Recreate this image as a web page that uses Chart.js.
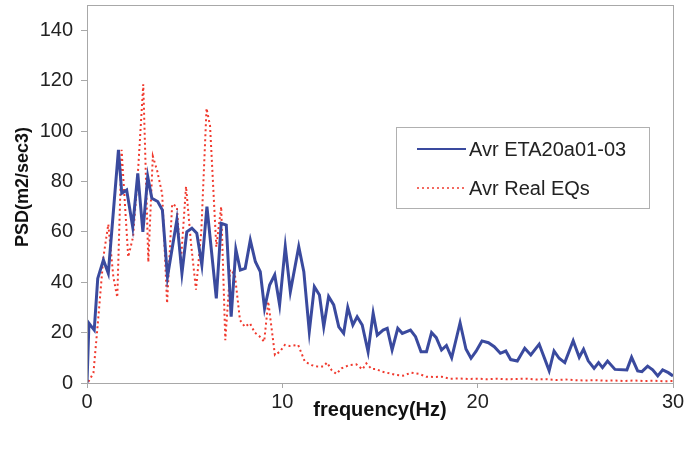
<!DOCTYPE html>
<html><head><meta charset="utf-8">
<script src="https://cdn.jsdelivr.net/npm/chart.js@4/dist/chart.umd.min.js"></script>
<style>html,body{margin:0;padding:0;background:#fff}#wrap{width:685px;height:452px}</style>
</head><body><div id="wrap"><canvas id="c" width="685" height="452"></canvas></div>
<script>
const seriesNames = ['Avr ETA20a01-03', 'Avr Real EQs'];
const xTickValues = [0, 10, 20, 30];
const yTickValues = [0, 20, 40, 60, 80, 100, 120, 140];
const xTitle = 'frequency(Hz)';
const yTitle = 'PSD(m2/sec3)';

const etaFreq = [0,0.1,0.37,0.55,0.84,1.09,1.61,1.78,2.03,2.34,2.6,2.86,3.11,3.32,3.62,3.86,4.12,4.6,4.86,5.11,5.37,5.62,5.88,6.14,6.62,6.87,7.13,7.38,7.62,7.85,8.1,8.36,8.62,8.87,9.09,9.35,9.61,9.86,10.15,10.41,10.84,11.1,11.38,11.64,11.9,12.12,12.37,12.63,12.89,13.14,13.35,13.61,13.83,14.09,14.39,14.65,14.86,15.16,15.37,15.62,15.91,16.14,16.56,16.82,17.1,17.38,17.64,17.88,18.15,18.4,18.67,19.1,19.4,19.66,19.92,20.22,20.55,20.85,21.16,21.44,21.69,22.03,22.41,22.72,23.15,23.66,23.91,24.17,24.46,24.89,25.2,25.42,25.66,25.96,26.19,26.39,26.65,27.03,27.64,27.88,28.19,28.41,28.7,28.96,29.22,29.47,29.76,30];
const etaPSD = [0,23.7,21,41.5,48.8,43.5,92.5,75.3,76.6,62,83.2,60,81.9,73.3,72,68.6,42.2,64.7,43.5,60,61.4,59.4,46.8,70,33.6,63.4,62.7,26.3,53,44.8,45.5,56.7,48.1,44.2,29.6,38.9,42.9,31,54.1,36.2,54.1,44.2,20.4,38.2,34.9,22.3,34.3,31,22.3,19.7,30,23,26.3,23,12.4,27.7,19,21,21.7,13.1,21.7,19.7,21,18.4,12.4,12.4,20,18,13.1,14.9,10,23.9,13.5,9.8,12.6,16.7,16,14.4,11.8,12.7,9.3,8.7,13.8,11.1,15.4,4.9,12.7,9.8,8.1,16.8,10.2,13.4,8.8,5.8,8.1,6.1,8.7,5.4,5.2,10.2,4.8,4.5,6.7,5.2,2.8,5.2,4.1,2.8];

const realFreq = [0.07,0.33,0.58,0.84,1.09,1.35,1.55,1.77,2.11,2.36,2.62,2.88,3.14,3.37,3.6,3.85,4.1,4.36,4.6,4.8,5.07,5.33,5.58,5.85,6.12,6.3,6.62,6.87,7.08,7.33,7.57,7.83,8.08,8.34,8.59,8.85,9.07,9.28,9.62,9.87,10.13,10.38,10.81,11.15,11.49,11.83,12.09,12.29,12.53,12.77,13.03,13.42,13.79,14.1,14.3,14.56,14.78,15.12,15.5,15.8,16.18,16.6,17,17.37,17.8,18.15,18.57,19,19.5,20,20.5,21,21.5,22,22.5,23,23.5,24,24.5,25,25.5,26,26.5,27,27.5,28,28.5,29,29.5,30];
const realPSD = [0.5,4,26,50,63,42,34,92.5,50,58,85,118.5,48,90,84,75,31.6,71,70,47.5,78,55,37,60,109,102,54,70,17,45,43,25,22.3,23.7,20,18.4,16.4,32.3,11.1,12.4,15.1,14.7,15.1,8.5,7.1,6.5,6.5,8.1,5,3.6,5.8,7.1,7.4,5.4,7.8,5.6,5.6,4.5,3.8,3.2,2.9,4.1,3.6,2.5,2.4,2.5,1.7,1.8,1.6,1.7,1.5,1.7,1.5,1.6,1.7,1.4,1.5,1.2,1.4,1.1,1.0,1.1,0.9,1.0,0.8,1.0,0.8,0.9,0.7,0.8];

const FONT = '"Liberation Sans", Arial, sans-serif';
const pts = (xs, ys) => xs.map((x, i) => ({x, y: ys[i]}));

const framePlugin = {
  id: 'frame',
  afterDraw(chart) {
    const {ctx, chartArea: a} = chart;
    ctx.save();
    ctx.strokeStyle = '#a8a8a8';
    ctx.lineWidth = 1;
    ctx.strokeRect(a.left + 0.5, a.top + 0.5, a.right - a.left, a.bottom - a.top);
    // y title
    ctx.save();
    ctx.translate(23, 187);
    ctx.rotate(-Math.PI / 2);
    ctx.fillStyle = '#111';
    ctx.font = 'bold 18px ' + FONT;
    ctx.textAlign = 'center';
    ctx.textBaseline = 'middle';
    ctx.fillText(yTitle, 0, 0);
    ctx.restore();
    // legend
    const bx = 396, by = 127, bw = 253, bh = 81;
    ctx.fillStyle = '#fff';
    ctx.fillRect(bx, by, bw, bh);
    ctx.strokeStyle = '#b0b0b0';
    ctx.strokeRect(bx + 0.5, by + 0.5, bw, bh);
    const ds = chart.data.datasets;
    const rows = [149, 188];
    ds.forEach((d, i) => {
      ctx.beginPath();
      ctx.strokeStyle = d.borderColor;
      ctx.lineWidth = i === 0 ? 2 : 1.5;
      ctx.setLineDash(i === 0 ? [] : [2, 3]);
      ctx.moveTo(417, rows[i]);
      ctx.lineTo(466, rows[i]);
      ctx.stroke();
      ctx.setLineDash([]);
      ctx.fillStyle = '#222';
      ctx.font = '20px ' + FONT;
      ctx.textBaseline = 'middle';
      ctx.textAlign = 'left';
      ctx.fillText(d.label, 469, rows[i] + 1);
    });
    ctx.restore();
  }
};

new Chart(document.getElementById('c'), {
  type: 'line',
  data: {
    datasets: [
      {label: seriesNames[0], data: pts(etaFreq, etaPSD), borderColor: '#3a4a9e', borderWidth: 3, pointRadius: 0, tension: 0, fill: false},
      {label: seriesNames[1], data: pts(realFreq, realPSD), borderColor: '#f03a2e', borderWidth: 2, borderDash: [2, 3], pointRadius: 0, tension: 0, fill: false}
    ]
  },
  options: {
    responsive: false,
    animation: false,
    devicePixelRatio: 1,
    layout: {padding: {top: 5, right: 12, left: 0, bottom: 0}},
    plugins: {legend: {display: false}, tooltip: {enabled: false}},
    scales: {
      x: {
        type: 'linear', min: 0, max: 30,
        afterBuildTicks: s => { s.ticks = xTickValues.map(v => ({value: v})); },
        afterFit: s => { s.height = 69; s.paddingLeft = 0; s.paddingRight = 0; },
        ticks: {font: {family: FONT, size: 20}, color: '#222', padding: 2, maxRotation: 0},
        grid: {drawOnChartArea: false, drawTicks: true, tickLength: 5, color: '#a8a8a8'},
        border: {color: '#a8a8a8'},
        title: {display: true, text: xTitle, font: {family: FONT, size: 20, weight: 'bold'}, color: '#111', padding: {top: 30, bottom: 30}}
      },
      y: {
        min: 0, max: 150,
        afterBuildTicks: s => { s.ticks = yTickValues.map(v => ({value: v})); },
        afterFit: s => { s.width = 87; s.paddingTop = 0; s.paddingBottom = 0; },
        ticks: {font: {family: FONT, size: 20}, color: '#222', padding: 8},
        grid: {drawOnChartArea: false, drawTicks: true, tickLength: 6, color: '#a8a8a8'},
        border: {color: '#a8a8a8'},
        title: {display: false}
      }
    }
  },
  plugins: [framePlugin]
});
</script>
</body></html>
